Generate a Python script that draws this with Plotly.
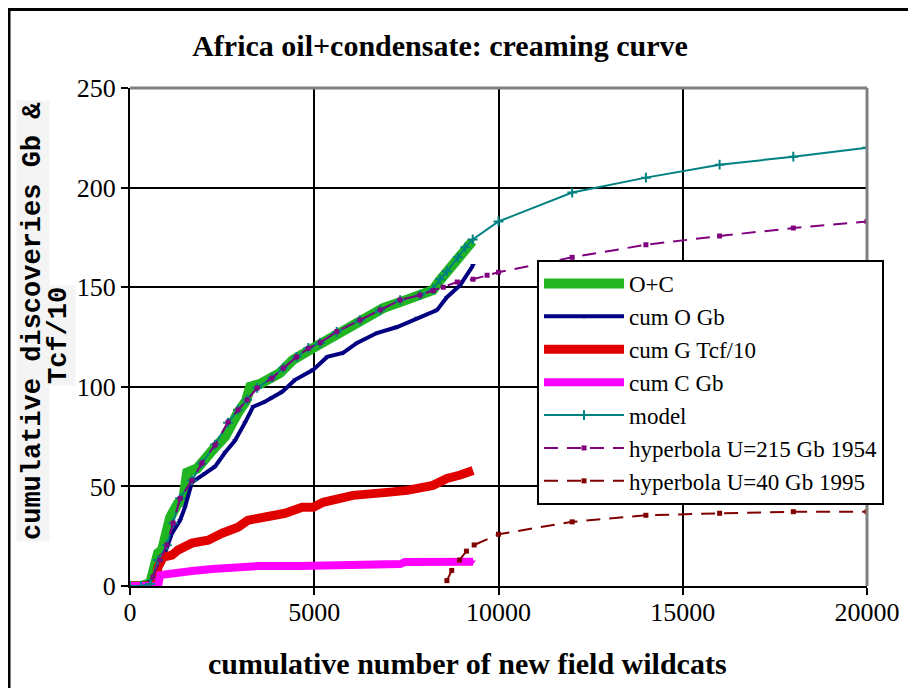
import plotly.graph_objects as go

# ---------------- data ----------------
oc_x = [0, 300, 550, 760, 870, 1090, 1300, 1450, 1550, 1820, 2230, 2580, 2930, 3150, 3260, 3530,
        4070, 4420, 4970, 5510, 5970, 6430, 6870, 7330, 7790, 8220, 8410, 8690, 8960, 9290]
oc_y = [0, 0, 1.5, 16.5, 18, 34.5, 41.5, 44, 57, 59, 68, 75, 87, 93, 100, 101.5,
        107, 113.5, 119.5, 125, 130, 135, 139.5, 142.5, 146, 148.5, 153.5, 159.5, 165, 173]

o_x = [0, 300, 620, 760, 950, 1140, 1360, 1490, 1680, 2040, 2310, 2580, 2850, 3120, 3340, 3660,
       3850, 4130, 4480, 4970, 5350, 5780, 6160, 6700, 7250, 7790, 8330, 8600, 8960, 9310]
o_y = [0, 0, 3, 12, 16.5, 26.5, 33, 39.5, 52, 56.5, 60, 67, 73, 82, 90, 92.5,
       94.5, 97.5, 103.5, 108.5, 115, 117, 122, 127, 130, 134.5, 138.5, 145, 151, 161]

g_x = [0, 300, 680, 760, 900, 1140, 1300, 1680, 2120, 2500, 2930, 3200, 3660, 4210, 4670, 4970,
       5240, 5890, 6050, 6980, 7520, 8220, 8600, 8960, 9310]
g_y = [0, 0, 0, 9.5, 14.5, 15.5, 18, 21.5, 23, 26.5, 29.5, 33, 34.5, 36.5, 39.5, 39.5,
       42, 44, 45.5, 47, 48, 50.5, 54, 55.7, 58]

c_x = [0, 300, 760, 820, 1220, 1680, 2230, 2580, 3120, 3470, 4610, 5970, 6050, 7330, 7460, 9310]
c_y = [0, 0, 0, 5.5, 6, 7.5, 8.5, 9, 9.5, 10, 10, 10.2, 11, 11, 12, 12.2]

model_x = [0, 300, 550, 760, 1000, 1170, 1360, 1680, 1950, 2310, 2660, 2930, 3180, 3450, 3850,
           4160, 4520, 4840, 5160, 5610, 6240, 6790, 7330, 7870, 8230, 8410, 8600, 8900, 9100, 9300,
           10000, 12000, 14000, 16000, 18000, 20000]
model_y = [0, 0, 1, 13, 20.5, 31.5, 44, 53, 61.5, 71, 82, 88.5, 93.5, 99.5, 104.5,
           109.5, 115, 119.5, 122, 127.5, 133.5, 138.5, 143.5, 146, 149, 154, 158, 165, 170, 174,
           183, 197.5, 205, 211.5, 215.5, 220]

h54_x = [620, 810, 1000, 1170, 1360, 1680, 1950, 2310, 2660, 2930, 3180, 3450, 3850, 4160, 4520,
         4840, 5160, 5610, 6240, 6790, 7330, 7870, 8230, 8500, 8880, 9310, 9690,
         10000, 12000, 14000, 16000, 18000, 20000]
h54_y = [4.5, 13, 20.6, 31.6, 44, 53, 61.7, 70.8, 82.3, 88.4, 93.4, 99.4, 104.3, 109.3, 115,
         119.3, 122.2, 127.7, 133.5, 138.6, 143.6, 146, 148.3, 150, 152.6, 154, 156,
         157.5, 165, 171.3, 175.7, 179.7, 183]

h95_x = [8600, 8730, 8940, 9130, 9340, 10000, 12000, 14000, 16000, 18000, 20000]
h95_y = [2.7, 7.8, 13, 17.5, 20.6, 26, 32.2, 35.5, 36.5, 37.3, 37.3]

x_ticks = [0, 5000, 10000, 15000, 20000]
y_ticks = [0, 50, 100, 150, 200, 250]

# ---------------- figure ----------------
fig = go.Figure()

fig.add_trace(go.Scatter(x=oc_x, y=oc_y, name="O+C", mode="lines+markers",
                         line=dict(color="#22b522", width=10),
                         marker=dict(symbol="triangle-down", size=5, color="#22b522")))
fig.add_trace(go.Scatter(x=o_x, y=o_y, name="cum O Gb", mode="lines+markers",
                         line=dict(color="#000080", width=4),
                         marker=dict(symbol="triangle-down", size=5, color="#000080")))
fig.add_trace(go.Scatter(x=g_x, y=g_y, name="cum G Tcf/10", mode="lines",
                         line=dict(color="#e00000", width=9)))
fig.add_trace(go.Scatter(x=c_x, y=c_y, name="cum C Gb", mode="lines+markers",
                         line=dict(color="#ff00ff", width=8),
                         marker=dict(symbol="triangle-down", size=5, color="#ff00ff")))
fig.add_trace(go.Scatter(x=model_x, y=model_y, name="model", mode="lines+markers",
                         line=dict(color="#008080", width=2),
                         marker=dict(symbol="cross-thin", size=7,
                                     line=dict(color="#008080", width=2))))
fig.add_trace(go.Scatter(x=h54_x, y=h54_y, name="hyperbola U=215 Gb 1954", mode="lines+markers",
                         line=dict(color="#800080", width=2, dash="14px,9px"),
                         marker=dict(symbol="square", size=5, color="#800080")))
fig.add_trace(go.Scatter(x=h95_x, y=h95_y, name="hyperbola U=40 Gb 1995", mode="lines+markers",
                         line=dict(color="#800000", width=2, dash="14px,9px"),
                         marker=dict(symbol="square", size=5, color="#800000")))

OFF = 8                      # page body margin
W, H = 908, 680
L, T = 130 - OFF, 88 - OFF
R = W - (867 - OFF)
B = H - (586 - OFF)
pw, ph = W - L - R, H - T - B


def px_x(p):                 # page pixel -> paper x
    return (p - OFF - L) / pw


def px_y(p):                 # page pixel -> paper y
    return (H - B - (p - OFF)) / ph


fig.update_layout(
    width=W, height=H,
    margin=dict(l=L, r=R, t=T, b=B),
    paper_bgcolor="white", plot_bgcolor="white",
    font=dict(family="Liberation Serif", color="black", size=26),
    title=dict(text="<b>Africa oil+condensate: creaming curve</b>",
               x=(440 - OFF) / W, xanchor="center", y=1 - (45 - OFF) / H, yanchor="middle",
               font=dict(family="Liberation Serif", size=30, color="black")),
    showlegend=True,
    legend=dict(x=px_x(537), y=px_y(260), xanchor="left", yanchor="top",
                bgcolor="white", bordercolor="black", borderwidth=2,
                font=dict(family="Liberation Serif", size=23, color="black"),
                itemwidth=80, tracegroupgap=0),
    xaxis=dict(range=[0, 20000], tickvals=x_ticks, ticktext=[str(v) for v in x_ticks],
               showgrid=True, gridcolor="black", gridwidth=2,
               showline=True, linecolor="black", linewidth=2,
               ticks="outside", ticklen=7, tickwidth=2, tickcolor="black",
               ticklabelstandoff=-5,
               zeroline=False, tickfont=dict(size=26)),
    yaxis=dict(range=[0, 250], tickvals=y_ticks, ticktext=[str(v) for v in y_ticks],
               showgrid=True, gridcolor="black", gridwidth=2,
               showline=True, linecolor="black", linewidth=2,
               ticks="outside", ticklen=7, tickwidth=2, tickcolor="black",
               zeroline=False, tickfont=dict(size=26)),
    shapes=[
        dict(type="line", xref="paper", yref="paper", x0=0, x1=1, y0=1, y1=1,
             line=dict(color="#808080", width=3)),
        dict(type="line", xref="paper", yref="paper", x0=1, x1=1, y0=0, y1=1,
             line=dict(color="#808080", width=3)),
        dict(type="rect", xref="paper", yref="paper",
             x0=px_x(9), x1=px_x(930), y0=px_y(9.5), y1=px_y(700),
             line=dict(color="black", width=3)),
    ],
    annotations=[
        dict(text="<b>cumulative number of new field wildcats</b>", xref="paper", yref="paper",
             x=px_x(467), y=px_y(663), xanchor="center", yanchor="middle", showarrow=False,
             font=dict(family="Liberation Serif", size=30, color="black")),
        dict(text="<b>cumulative discoveries Gb &amp;</b>", xref="paper", yref="paper",
             x=px_x(33), y=px_y(321), xanchor="center", yanchor="middle", showarrow=False,
             textangle=-90, bgcolor="#f4f4f4",
             font=dict(family="Liberation Mono", size=27, color="black")),
        dict(text="<b>Tcf/10</b>", xref="paper", yref="paper",
             x=px_x(59), y=px_y(336), xanchor="center", yanchor="middle", showarrow=False,
             textangle=-90, bgcolor="#f4f4f4",
             font=dict(family="Liberation Mono", size=27, color="black")),
    ],
)

fig.write_html("out.html")
